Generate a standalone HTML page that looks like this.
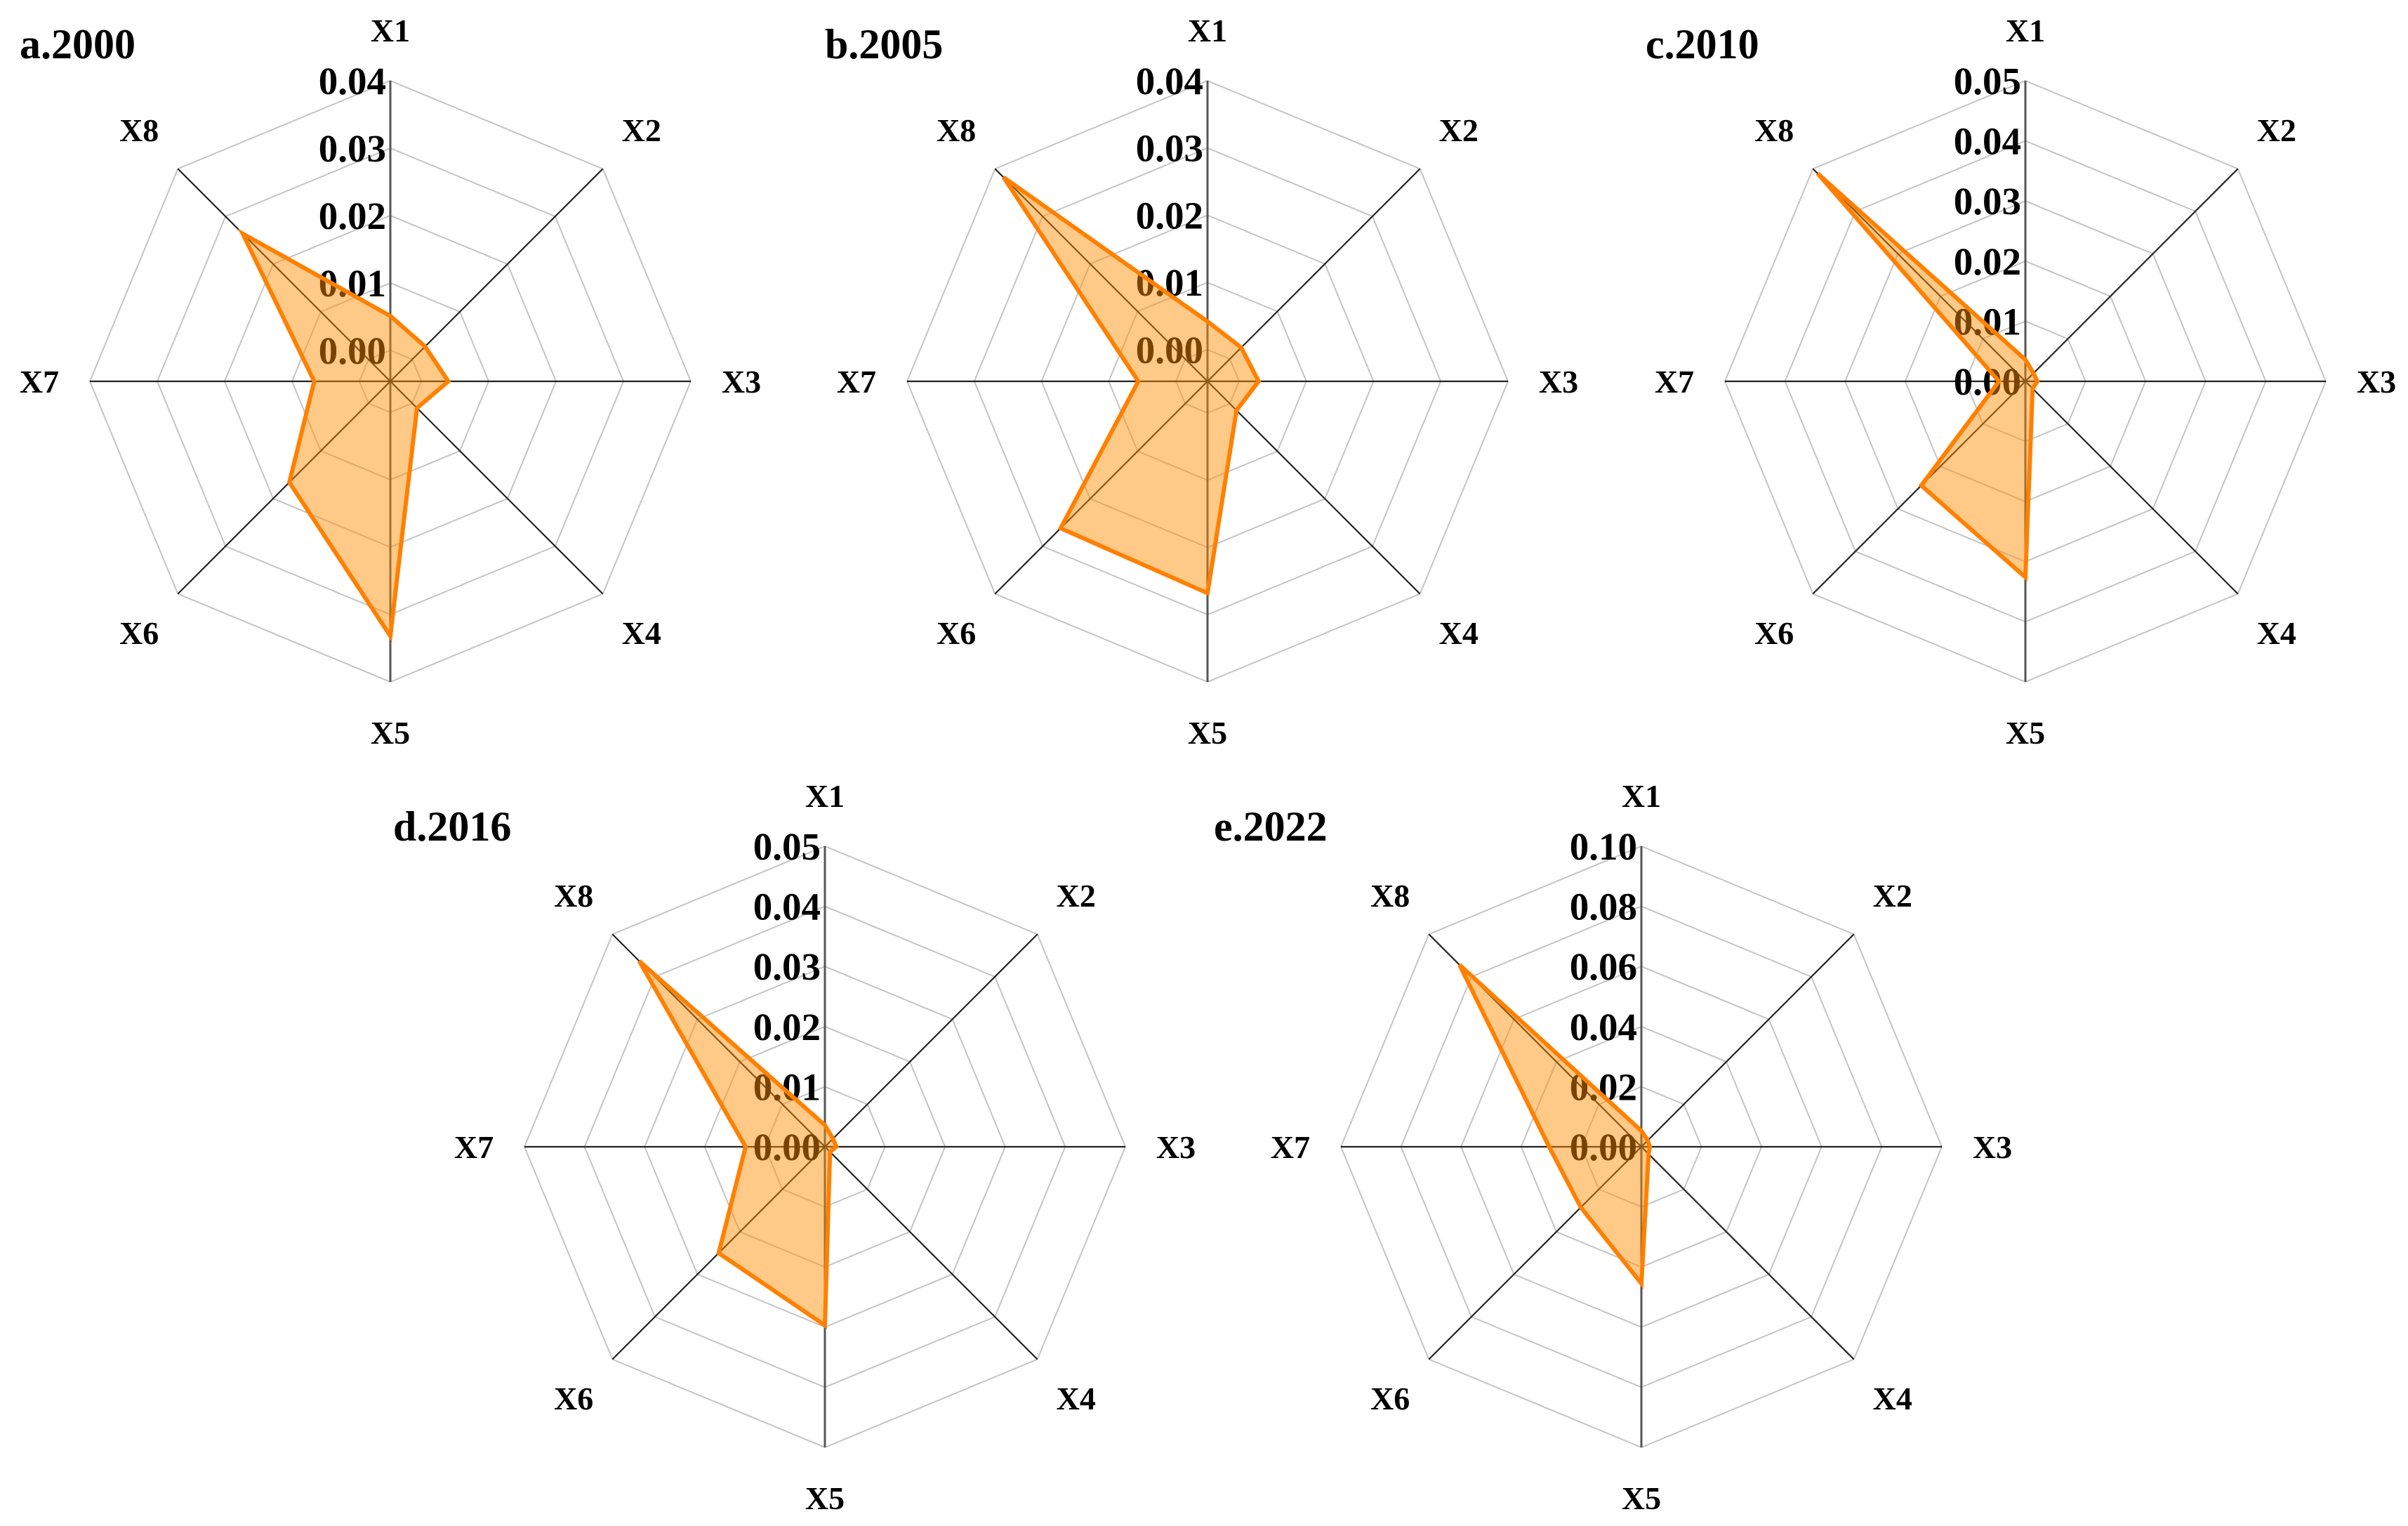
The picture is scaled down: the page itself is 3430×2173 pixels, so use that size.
<!DOCTYPE html>
<html><head><meta charset="utf-8"><style>
html,body{margin:0;padding:0;background:#fff;}
svg{display:block;}
text{font-family:"Liberation Serif",serif;font-weight:bold;fill:#000;}
</style></head><body>
<svg id="fig" width="3430" height="2173" viewBox="0 0 3430 2173" xmlns="http://www.w3.org/2000/svg"></svg>
<script>
const axisNames = ["X1","X2","X3","X4","X5","X6","X7","X8"];
const titles = ["a.2000","b.2005","c.2010","d.2016","e.2022"];
const valuesA = [0.0051,0.0027,0.0040,0.0010,0.0332,0.0166,0.0067,0.0264];
const valuesB = [0.0042,0.0024,0.0029,0.0014,0.0268,0.0262,0.0056,0.0382];
const valuesC = [0.0036,0.0019,0.0020,0.0017,0.0326,0.0245,0.0044,0.0489];
const valuesD = [0.0036,0.0019,0.0019,0.0012,0.0297,0.0250,0.0132,0.0437];
const valuesE = [0.0053,0.0030,0.0028,0.0034,0.0455,0.0285,0.0307,0.0856];
const ticksA = [0,0.01,0.02,0.03,0.04];
const ticksB = [0,0.01,0.02,0.03,0.04];
const ticksC = [0,0.01,0.02,0.03,0.04,0.05];
const ticksD = [0,0.01,0.02,0.03,0.04,0.05];
const ticksE = [0,0.02,0.04,0.06,0.08,0.10];
const minsA = -0.0046, minsB = -0.0047, minsC = 0, minsD = 0, minsE = 0;

const NS = "http://www.w3.org/2000/svg";
const svg = document.getElementById("fig");
function mk(tag, attrs, parent){
  const e = document.createElementNS(NS, tag);
  for (const k in attrs) e.setAttribute(k, attrs[k]);
  (parent||svg).appendChild(e);
  return e;
}
const panels = [
  {cx:556, cy:543, tx:28, ty:83, vals:valuesA, ticks:ticksA, min:minsA, title:titles[0], dec:2},
  {cx:1720, cy:543, tx:1175, ty:83, vals:valuesB, ticks:ticksB, min:minsB, title:titles[1], dec:2},
  {cx:2885, cy:543, tx:2344, ty:83, vals:valuesC, ticks:ticksC, min:minsC, title:titles[2], dec:2},
  {cx:1175, cy:1633, tx:560, ty:1197, vals:valuesD, ticks:ticksD, min:minsD, title:titles[3], dec:2},
  {cx:2338, cy:1633, tx:1729, ty:1197, vals:valuesE, ticks:ticksE, min:minsE, title:titles[4], dec:2}
];
const R = 428;
panels.forEach((p, pi) => {
  const g = mk("g", {});
  
  
  const max = p.ticks[p.ticks.length-1];
  const rOf = v => (v - p.min) / (max - p.min) * R;
  const pt = (i, r) => {
    const a = i * Math.PI / 4;
    return [p.cx + r * Math.sin(a), p.cy - r * Math.cos(a)];
  };
  // grid rings
  p.ticks.forEach(t => {
    const r = rOf(t);
    const pts = axisNames.map((_, i) => pt(i, r).join(",")).join(" ");
    const ring = mk("polygon", {points: pts, fill: "none", stroke: "#c4c4c4", "stroke-width": 2}, g);
    
    
  });
  // spokes
  axisNames.forEach((n, i) => {
    const [x, y] = pt(i, R);
    const l = mk("line", {x1: p.cx, y1: p.cy, x2: x, y2: y, stroke: i === 0 || i === 4 ? "#555" : "#222", "stroke-width": i === 0 || i === 4 ? 3 : 2.2}, g);
    
    
    const lr = (i % 2 === 0) ? 500 : 506;
    const [lx, ly] = pt(i, lr);
    const t = mk("text", {x: lx, y: ly + 16, "font-size": 46, "text-anchor": "middle"}, g);
    t.textContent = n;
    
    
  });
  // tick labels
  p.ticks.forEach(tv => {
    const r = rOf(tv);
    const t = mk("text", {x: p.cx - 6, y: p.cy - r + 19, "font-size": 55, "text-anchor": "end"}, g);
    t.textContent = tv.toFixed(p.dec);
    
    
  });
  // data polygon
  const dp = p.vals.map((v, i) => pt(i, rOf(v)).join(",")).join(" ");
  const fillPoly = mk("polygon", {points: dp, fill: "#ff8c00", "fill-opacity": 0.47, stroke: "#ff8000", "stroke-width": 6, "stroke-linejoin": "miter"}, g);
  
  
  // title
  const tt = mk("text", {x: p.tx, y: p.ty, "font-size": 60}, g);
  tt.textContent = p.title;
  
  
});
</script>
</body></html>
